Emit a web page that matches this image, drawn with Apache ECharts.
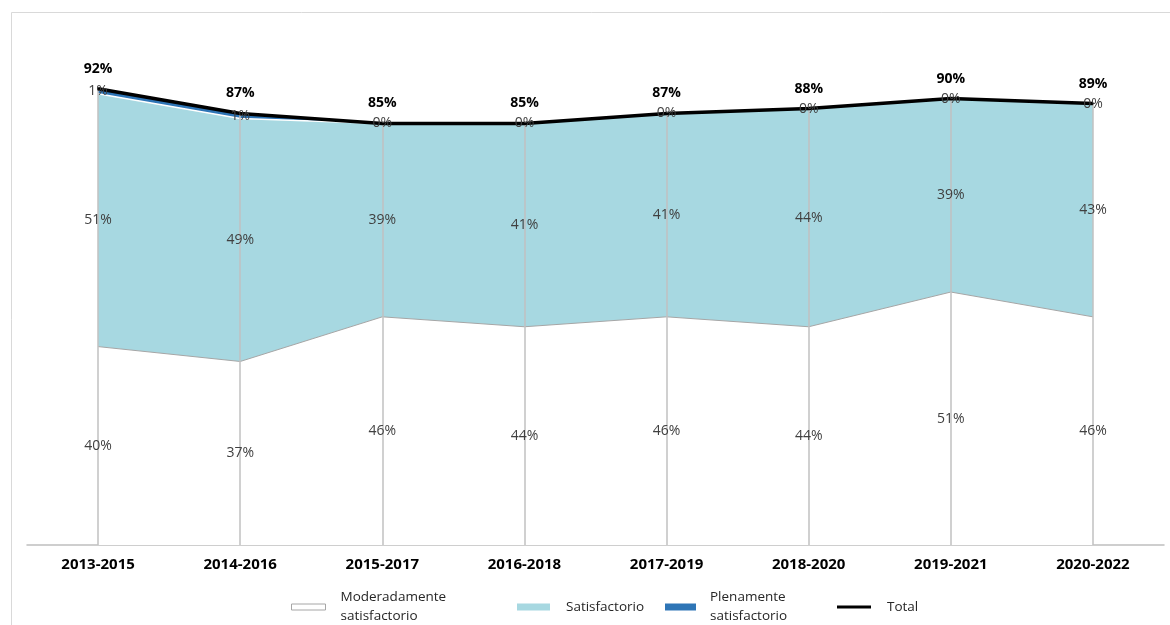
<!DOCTYPE html>
<html>
<head>
<meta charset="utf-8">
<script src="https://cdn.jsdelivr.net/npm/echarts@6/dist/echarts.min.js"></script>
<style>html,body{margin:0;padding:0;background:#fff}#c{width:1170px;height:625px}</style>
</head>
<body>
<div id="c"></div>
<script>
const categories = ['2013-2015','2014-2016','2015-2017','2016-2018','2017-2019','2018-2020','2019-2021','2020-2022'];
const moderado = [40,37,46,44,46,44,51,46];
const satisfactorio = [51,49,39,41,41,44,39,43];
const plenamente = [1,1,0,0,0,0,0,0];
const total = [92,87,85,85,87,88,90,89];
const seriesNames = ['Moderadamente\nsatisfactorio','Satisfactorio','Plenamente\nsatisfactorio','Total'];

const FONT = "'Open Sans', 'Noto Sans', sans-serif";
const chart = echarts.init(document.getElementById('c'), null, {renderer:'canvas'});

const valueLabel = {
  show: true, position: 'inside', color: '#404040', fontFamily: FONT, fontSize: 14,
  formatter: p => p.value + '%'
};

function legendText(gap){
  return {fontFamily: FONT, fontSize: 13.5, color: '#262626', lineHeight: 19, padding:[0,0,0,gap]};
}
function legendBox(item, left, top, w, h, gap){
  return {
    left: left, top: top, orient: 'horizontal', selectedMode: false,
    itemWidth: w, itemHeight: h, padding: 0,
    data: [item], textStyle: legendText(gap)
  };
}

const option = {
  animation: false,
  backgroundColor: '#fff',
  graphic: [{
    type: 'rect', silent: true, z: -10,
    shape: {x: 11.5, y: 12.5, width: 1180, height: 700},
    style: {fill: 'none', stroke: '#d9d9d9', lineWidth: 1}
  }],
  grid: {left: 27, right: 6, top: 49, bottom: 80},
  xAxis: {
    type: 'category', data: categories, boundaryGap: true,
    axisLine: {lineStyle: {color: '#bfbfbf', width: 1.5}},
    axisTick: {show: false},
    axisLabel: {color: '#000', fontFamily: FONT, fontSize: 15, fontWeight: 'bold', margin: 12}
  },
  yAxis: {type: 'value', min: 0, max: 100, show: false, splitLine: {show: false}},
  legend: [
    legendBox({name: seriesNames[0], icon: 'rect', itemStyle: {color: '#ffffff', borderColor: '#a6a6a6', borderWidth: 1}},
              291, 588, 34, 6, 10),
    legendBox({name: seriesNames[1], icon: 'rect', itemStyle: {color: '#a7d8e1', borderWidth: 0}},
              517, 597.5, 33, 7, 11),
    legendBox({name: seriesNames[2], icon: 'rect', itemStyle: {color: '#2e75b6', borderWidth: 0}},
              665, 588, 31, 7, 9),
    legendBox({name: seriesNames[3], icon: 'rect', itemStyle: {color: '#000', borderWidth: 0}},
              837, 597.5, 34, 3, 11)
  ],
  series: [
    {
      name: seriesNames[0], type: 'line', stack: 'area', data: moderado, symbol: 'none', z: 2,
      lineStyle: {color: '#a6a6a6', width: 1}, itemStyle: {color: '#ffffff'},
      areaStyle: {color: '#ffffff', opacity: 1}
    },
    {
      name: seriesNames[1], type: 'line', stack: 'area', data: satisfactorio, symbol: 'none', z: 2,
      lineStyle: {color: '#ffffff', width: 1.5}, itemStyle: {color: '#a7d8e1'},
      areaStyle: {color: '#a7d8e1', opacity: 1}
    },
    {
      name: seriesNames[2], type: 'line', stack: 'area', data: plenamente, symbol: 'none', z: 2,
      lineStyle: {color: '#2e75b6', width: 1}, itemStyle: {color: '#2e75b6'},
      areaStyle: {color: '#2e75b6', opacity: 1}
    },
    {
      name: seriesNames[3], type: 'line', data: total, symbol: 'circle', symbolSize: 2, showSymbol: true, z: 4,
      lineStyle: {color: '#000', width: 3.5}, itemStyle: {color: '#000'},
      label: {show: true, position: 'top', distance: 12, color: '#000', fontFamily: FONT,
              fontSize: 14, fontWeight: 'bold', formatter: p => p.value + '%'},
      markLine: {
        silent: true, symbol: ['none','none'], z: 3,
        label: {show: false},
        lineStyle: {color: '#c0c0c0', width: 1.5, type: 'solid'},
        data: categories.map((c, i) => [{coord: [c, 0]}, {coord: [c, total[i]]}])
      }
    },
    {name: 'lbl-m', type: 'bar', stack: 'labels', data: moderado, barWidth: 1, z: 6,
     itemStyle: {color: 'rgba(0,0,0,0)'}, label: valueLabel},
    {name: 'lbl-s', type: 'bar', stack: 'labels', data: satisfactorio, barWidth: 1, z: 6,
     itemStyle: {color: 'rgba(0,0,0,0)'}, label: valueLabel},
    {name: 'lbl-p', type: 'bar', stack: 'labels', data: plenamente, barWidth: 1, z: 6,
     itemStyle: {color: 'rgba(0,0,0,0)'}, label: valueLabel}
  ]
};
chart.setOption(option);
</script>
</body>
</html>
